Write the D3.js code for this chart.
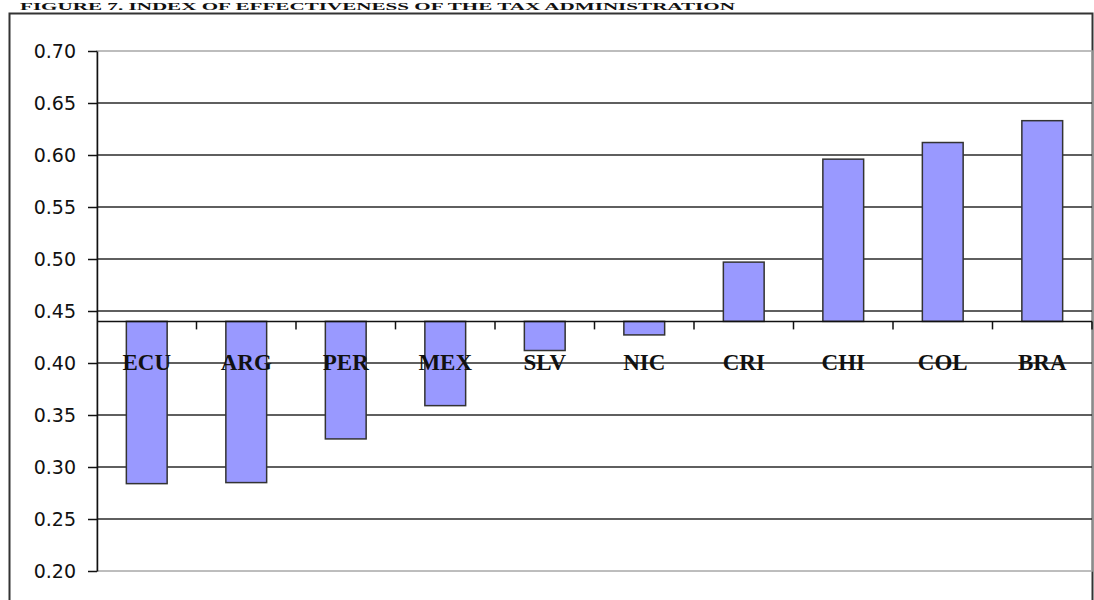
<!DOCTYPE html>
<html>
<head>
<meta charset="utf-8">
<script src="https://cdn.jsdelivr.net/npm/d3@7"></script>
<style>
  body { margin: 0; background: #fff; }
  svg { display: block; }
</style>
</head>
<body>
<script>
// values
const countries = ["ECU", "ARG", "PER", "MEX", "SLV", "NIC", "CRI", "CHI", "COL", "BRA"];
const values = [0.284, 0.285, 0.327, 0.359, 0.412, 0.427, 0.497, 0.596, 0.612, 0.633];
const yTicks = [0.20, 0.25, 0.30, 0.35, 0.40, 0.45, 0.50, 0.55, 0.60, 0.65, 0.70];
const baseValue = 0.44;
const title = "FIGURE 7. INDEX OF EFFECTIVENESS OF THE TAX ADMINISTRATION";

const w = 1094;
const h = 600;
const padLeft = 97, padRight = 1092, padTop = 51, padBottom = 571;

const svg = d3.select("body")
    .append("svg")
    .attr("width", w)
    .attr("height", h);

// title, squeezed into the strip above the frame
svg.append("text")
    .attr("x", 20)
    .attr("y", 10)
    .attr("font-family", "Liberation Serif")
    .attr("font-weight", "bold")
    .attr("font-size", 11)
    .attr("textLength", 715)
    .attr("lengthAdjust", "spacingAndGlyphs")
    .attr("fill", "#111")
    .text(title);

// outer frame
svg.append("rect")
    .attr("x", 9.5)
    .attr("y", 13.5)
    .attr("width", 1083)
    .attr("height", 620)
    .attr("fill", "none")
    .attr("stroke", "#333")
    .attr("stroke-width", 2);

const yScale = d3.scaleLinear()
    .domain([0.2, 0.7])
    .range([padBottom, padTop]);

const xScale = d3.scaleBand()
    .domain(countries)
    .range([padLeft, padRight])
    .paddingInner(0.59)
    .paddingOuter(0.295);

// plot area border
svg.append("rect")
    .attr("x", padLeft)
    .attr("y", padTop)
    .attr("width", padRight - padLeft)
    .attr("height", padBottom - padTop)
    .attr("fill", "none")
    .attr("stroke", "#a8a8a8")
    .attr("stroke-width", 1.5);

// gridlines
svg.append("g")
    .selectAll("line")
    .data(yTicks.filter(d => d > 0.2 && d < 0.7))
    .enter()
    .append("line")
    .attr("x1", padLeft)
    .attr("x2", padRight)
    .attr("y1", d => yScale(d))
    .attr("y2", d => yScale(d))
    .attr("stroke", "#2a2a2a")
    .attr("stroke-width", 1.5);

// bars, from the 0.44 baseline
svg.append("g")
    .selectAll("rect")
    .data(values)
    .enter()
    .append("rect")
    .attr("x", (d, i) => xScale(countries[i]))
    .attr("width", xScale.bandwidth())
    .attr("y", d => yScale(Math.max(d, baseValue)))
    .attr("height", d => Math.abs(yScale(d) - yScale(baseValue)))
    .attr("fill", "#9999ff")
    .attr("stroke", "#333")
    .attr("stroke-width", 1.5);

// baseline with category ticks
const step = xScale.step();
svg.append("line")
    .attr("x1", padLeft)
    .attr("x2", padRight)
    .attr("y1", yScale(baseValue))
    .attr("y2", yScale(baseValue))
    .attr("stroke", "#111")
    .attr("stroke-width", 1.5);

svg.append("g")
    .selectAll("line")
    .data(countries)
    .enter()
    .append("line")
    .attr("x1", (d, i) => padLeft + step * (i + 1))
    .attr("x2", (d, i) => padLeft + step * (i + 1))
    .attr("y1", yScale(baseValue))
    .attr("y2", yScale(baseValue) + 8)
    .attr("stroke", "#111")
    .attr("stroke-width", 1.5);

// category labels
svg.append("g")
    .selectAll("text")
    .data(countries)
    .enter()
    .append("text")
    .attr("x", d => xScale(d) + xScale.bandwidth() / 2)
    .attr("y", 370)
    .attr("text-anchor", "middle")
    .attr("font-family", "Liberation Serif")
    .attr("font-weight", "bold")
    .attr("font-size", 23)
    .attr("fill", "#111")
    .text(d => d);

// y axis
const yAxis = svg.append("g")
    .attr("transform", "translate(" + padLeft + ",0)")
    .call(d3.axisLeft(yScale)
        .tickValues(yTicks)
        .tickFormat(d3.format(".2f"))
        .tickSize(9)
        .tickSizeOuter(0)
        .tickPadding(12));

yAxis.selectAll("path, line")
    .attr("stroke", "#111")
    .attr("stroke-width", 1.5);

yAxis.selectAll("text")
    .attr("font-family", "DejaVu Sans")
    .attr("font-size", 19)
    .attr("fill", "#111");
</script>
</body>
</html>
